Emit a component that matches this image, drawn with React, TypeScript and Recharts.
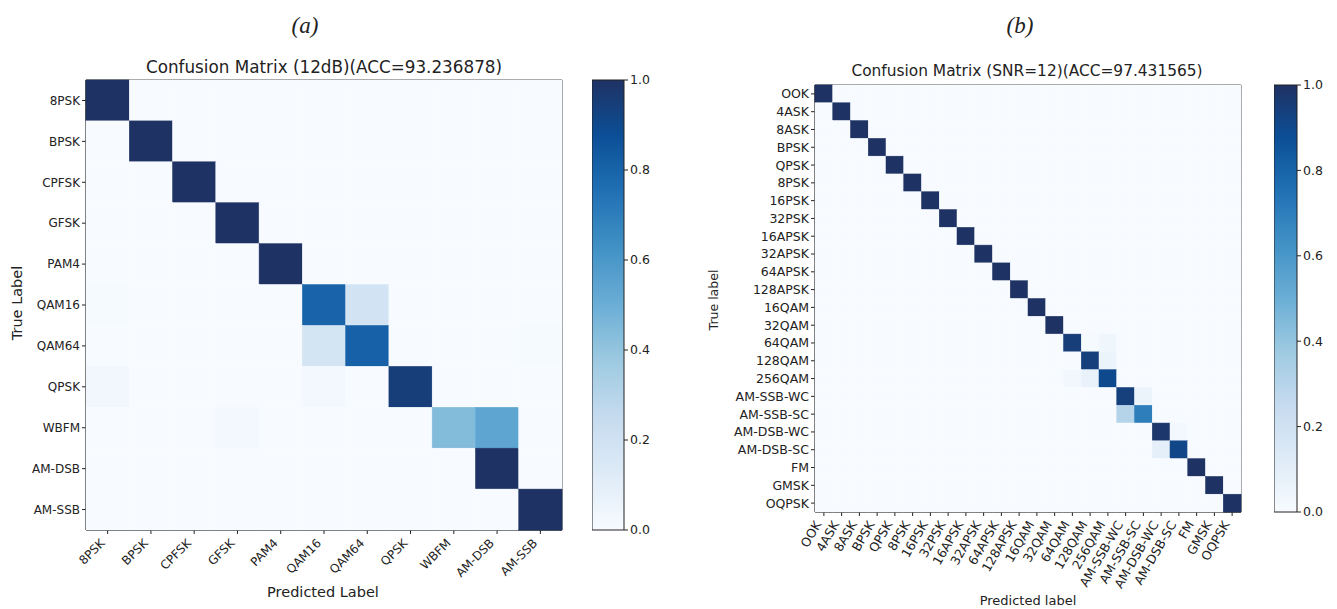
import React from "react";
import {
  ScatterChart,
  Scatter,
  XAxis,
  YAxis,
  ReferenceArea,
  BarChart,
  Bar,
} from "recharts";

// (a) 11 classes, 12 dB
const labelsA = ["8PSK", "BPSK", "CPFSK", "GFSK", "PAM4", "QAM16", "QAM64", "QPSK", "WBFM", "AM-DSB", "AM-SSB"];
const matrixA = [
  [1.0, 0, 0, 0, 0, 0, 0, 0, 0, 0, 0],
  [0, 1.0, 0, 0, 0, 0, 0, 0, 0, 0, 0],
  [0, 0, 1.0, 0, 0, 0, 0, 0, 0, 0, 0],
  [0, 0, 0, 1.0, 0, 0, 0, 0, 0, 0, 0],
  [0, 0, 0, 0, 1.0, 0, 0, 0, 0, 0, 0],
  [0.01, 0, 0, 0, 0, 0.8, 0.19, 0, 0, 0, 0],
  [0, 0, 0, 0, 0, 0.18, 0.81, 0, 0, 0, 0.01],
  [0.03, 0, 0, 0, 0, 0.02, 0, 0.95, 0, 0, 0],
  [0, 0, 0, 0.02, 0, 0, 0, 0, 0.44, 0.54, 0],
  [0, 0, 0, 0, 0, 0, 0, 0, 0, 1.0, 0],
  [0, 0, 0, 0, 0, 0, 0, 0, 0, 0, 1.0],
];

// (b) 24 classes, SNR = 12
const labelsB = [
  "OOK", "4ASK", "8ASK", "BPSK", "QPSK", "8PSK", "16PSK", "32PSK", "16APSK", "32APSK", "64APSK", "128APSK",
  "16QAM", "32QAM", "64QAM", "128QAM", "256QAM", "AM-SSB-WC", "AM-SSB-SC", "AM-DSB-WC", "AM-DSB-SC", "FM", "GMSK", "OQPSK",
];
const matrixB = [
  [1.0, 0, 0, 0, 0, 0, 0, 0, 0, 0, 0, 0, 0, 0, 0, 0, 0, 0, 0, 0, 0, 0, 0, 0],
  [0, 1.0, 0, 0, 0, 0, 0, 0, 0, 0, 0, 0, 0, 0, 0, 0, 0, 0, 0, 0, 0, 0, 0, 0],
  [0, 0, 1.0, 0, 0, 0, 0, 0, 0, 0, 0, 0, 0, 0, 0, 0, 0, 0, 0, 0, 0, 0, 0, 0],
  [0, 0, 0, 1.0, 0, 0, 0, 0, 0, 0, 0, 0, 0, 0, 0, 0, 0, 0, 0, 0, 0, 0, 0, 0],
  [0, 0, 0, 0, 1.0, 0, 0, 0, 0, 0, 0, 0, 0, 0, 0, 0, 0, 0, 0, 0, 0, 0, 0, 0],
  [0, 0, 0, 0, 0, 1.0, 0, 0, 0, 0, 0, 0, 0, 0, 0, 0, 0, 0, 0, 0, 0, 0, 0, 0],
  [0, 0, 0, 0, 0, 0, 1.0, 0, 0, 0, 0, 0, 0, 0, 0, 0, 0, 0, 0, 0, 0, 0, 0, 0],
  [0, 0, 0, 0, 0, 0, 0, 1.0, 0, 0, 0, 0, 0, 0, 0, 0, 0, 0, 0, 0, 0, 0, 0, 0],
  [0, 0, 0, 0, 0, 0, 0, 0, 1.0, 0, 0, 0, 0, 0, 0, 0, 0, 0, 0, 0, 0, 0, 0, 0],
  [0, 0, 0, 0, 0, 0, 0, 0, 0, 1.0, 0, 0, 0, 0, 0, 0, 0, 0, 0, 0, 0, 0, 0, 0],
  [0, 0, 0, 0, 0, 0, 0, 0, 0, 0, 1.0, 0, 0, 0, 0, 0, 0, 0, 0, 0, 0, 0, 0, 0],
  [0, 0, 0, 0, 0, 0, 0, 0, 0, 0, 0, 1.0, 0, 0, 0, 0, 0, 0, 0, 0, 0, 0, 0, 0],
  [0, 0, 0, 0, 0, 0, 0, 0, 0, 0, 0, 0, 1.0, 0, 0, 0, 0, 0, 0, 0, 0, 0, 0, 0],
  [0, 0, 0, 0, 0, 0, 0, 0, 0, 0, 0, 0, 0, 1.0, 0, 0, 0, 0, 0, 0, 0, 0, 0, 0],
  [0, 0, 0, 0, 0, 0, 0, 0, 0, 0, 0, 0, 0, 0, 0.95, 0.01, 0.04, 0, 0, 0, 0, 0, 0, 0],
  [0, 0, 0, 0, 0, 0, 0, 0, 0, 0, 0, 0, 0, 0, 0, 0.94, 0.06, 0, 0, 0, 0, 0, 0, 0],
  [0, 0, 0, 0, 0, 0, 0, 0, 0, 0, 0, 0, 0, 0, 0.03, 0.07, 0.9, 0, 0, 0, 0, 0, 0, 0],
  [0, 0, 0, 0, 0, 0, 0, 0, 0, 0, 0, 0, 0, 0, 0, 0, 0, 0.94, 0.06, 0, 0, 0, 0, 0],
  [0, 0, 0, 0, 0, 0, 0, 0, 0, 0, 0, 0, 0, 0, 0, 0, 0, 0.3, 0.7, 0, 0, 0, 0, 0],
  [0, 0, 0, 0, 0, 0, 0, 0, 0, 0, 0, 0, 0, 0, 0, 0, 0, 0, 0, 0.98, 0.02, 0, 0, 0],
  [0, 0, 0, 0, 0, 0, 0, 0, 0, 0, 0, 0, 0, 0, 0, 0, 0, 0, 0, 0.09, 0.91, 0, 0, 0],
  [0, 0, 0, 0, 0, 0, 0, 0, 0, 0, 0, 0, 0, 0, 0, 0, 0, 0, 0, 0, 0, 1.0, 0, 0],
  [0, 0, 0, 0, 0, 0, 0, 0, 0, 0, 0, 0, 0, 0, 0, 0, 0, 0, 0, 0, 0, 0, 1.0, 0],
  [0, 0, 0, 0, 0, 0, 0, 0, 0, 0, 0, 0, 0, 0, 0, 0, 0, 0, 0, 0, 0, 0, 0, 1.0],
];

const colorTicks = [0, 0.2, 0.4, 0.6, 0.8, 1.0];

// matplotlib "Blues", dark end matched to the picture
const blues: [number, string][] = [
  [0, "#f7fbff"],
  [0.125, "#deebf7"],
  [0.25, "#c6dbef"],
  [0.375, "#9ecae1"],
  [0.5, "#6baed6"],
  [0.625, "#4292c6"],
  [0.75, "#2171b5"],
  [0.875, "#0b4f97"],
  [1, "#1f3264"],
];

const FONT = "'DejaVu Sans', sans-serif";
const INK = "#222";

function hex(c: string) {
  return [1, 3, 5].map((i) => parseInt(c.slice(i, i + 2), 16));
}

function blueAt(v: number) {
  const t = Math.max(0, Math.min(1, v));
  for (let i = 1; i < blues.length; i++) {
    const [o1, c1] = blues[i - 1];
    const [o2, c2] = blues[i];
    if (t <= o2) {
      const f = (t - o1) / (o2 - o1);
      const a = hex(c1);
      const b = hex(c2);
      const m = a.map((x, k) => Math.round(x + (b[k] - x) * f));
      return `rgb(${m[0]},${m[1]},${m[2]})`;
    }
  }
  return blues[blues.length - 1][1];
}

/* ------------------------------------------------------------------ */

function SlantTick(props: any) {
  const { x, y, payload, labels, angle, fontSize, dx, dy } = props;
  return (
    <g transform={`translate(${x + dx},${y + dy})`}>
      <text
        textAnchor="end"
        dominantBaseline="central"
        transform={`rotate(${-angle})`}
        fontSize={fontSize}
        fontFamily={FONT}
        fill={INK}
      >
        {labels[payload.value]}
      </text>
    </g>
  );
}

type Margin = { top: number; right: number; bottom: number; left: number };

function HeatMap({
  labels,
  matrix,
  width,
  height,
  margin,
  yAxisWidth,
  xAxisHeight,
  fontSize,
  angle,
  tickDx,
  tickDy,
}: {
  labels: string[];
  matrix: number[][];
  width: number;
  height: number;
  margin: Margin;
  yAxisWidth: number;
  xAxisHeight: number;
  fontSize: number;
  angle: number;
  tickDx: number;
  tickDy: number;
}) {
  const n = labels.length;
  const cw = (width - margin.left - margin.right - yAxisWidth) / n;
  const ch = (height - margin.top - margin.bottom - xAxisHeight) / n;
  const cells = matrix.flatMap((row, r) => row.map((v, c) => ({ x: c, y: r, v })));
  const idx = labels.map((_, i) => i);

  return (
    <ScatterChart width={width} height={height} margin={margin}>
      <XAxis
        type="number"
        dataKey="x"
        domain={[-0.5, n - 0.5]}
        ticks={idx}
        interval={0}
        height={xAxisHeight}
        tickSize={4}
        stroke={INK}
        tick={<SlantTick labels={labels} angle={angle} fontSize={fontSize} dx={tickDx} dy={tickDy} />}
      />
      <YAxis
        type="number"
        dataKey="y"
        domain={[-0.5, n - 0.5]}
        reversed
        ticks={idx}
        interval={0}
        width={yAxisWidth}
        tickSize={4}
        stroke={INK}
        tickFormatter={(i: number) => labels[i]}
        tick={{ fontSize, fill: INK, fontFamily: FONT }}
      />
      <Scatter
        data={cells}
        isAnimationActive={false}
        shape={(p: any) => (
          <rect
            x={p.cx - cw / 2}
            y={p.cy - ch / 2}
            width={cw}
            height={ch}
            fill={blueAt(p.payload.v)}
            stroke={blueAt(p.payload.v)}
            strokeWidth={0.5}
          />
        )}
      />
      <ReferenceArea
        x1={-0.5}
        x2={n - 0.5}
        y1={-0.5}
        y2={n - 0.5}
        fill="none"
        stroke={INK}
        strokeWidth={1}
        ifOverflow="visible"
      />
    </ScatterChart>
  );
}

function ColorBar({
  id,
  width,
  height,
  margin,
  axisWidth,
  fontSize,
}: {
  id: string;
  width: number;
  height: number;
  margin: Margin;
  axisWidth: number;
  fontSize: number;
}) {
  return (
    <BarChart width={width} height={height} margin={margin} data={[{ k: "scale", v: 1 }]} barCategoryGap={0}>
      <defs>
        <linearGradient id={id} x1="0" y1="1" x2="0" y2="0">
          {blues.map(([o, c]) => (
            <stop key={o} offset={o} stopColor={c} />
          ))}
        </linearGradient>
      </defs>
      <XAxis dataKey="k" hide />
      <YAxis
        orientation="right"
        domain={[0, 1]}
        ticks={colorTicks}
        interval={0}
        width={axisWidth}
        tickSize={4}
        stroke={INK}
        axisLine={false}
        tickFormatter={(v: number) => v.toFixed(1)}
        tick={{ fontSize, fill: INK, fontFamily: FONT }}
      />
      <Bar dataKey="v" fill={`url(#${id})`} stroke={INK} strokeWidth={1} isAnimationActive={false} />
    </BarChart>
  );
}

function Caption({
  x,
  y,
  size,
  rotate = 0,
  serif = false,
  children,
}: {
  x: number;
  y: number;
  size: number;
  rotate?: number;
  serif?: boolean;
  children: React.ReactNode;
}) {
  return (
    <div
      style={{
        position: "absolute",
        left: x,
        top: y,
        transform: `translate(-50%, -50%) rotate(${rotate}deg)`,
        whiteSpace: "nowrap",
        fontSize: size,
        lineHeight: 1,
        color: INK,
        fontFamily: serif ? "'Liberation Serif', serif" : FONT,
        fontStyle: serif ? "italic" : "normal",
      }}
    >
      {children}
    </div>
  );
}

function Place({ left, top, children }: { left: number; top: number; children: React.ReactNode }) {
  return <div style={{ position: "absolute", left, top }}>{children}</div>;
}

export default function App() {
  return (
    <div
      style={{
        position: "absolute",
        left: 0,
        top: 0,
        width: 1337,
        height: 609,
        background: "#fff",
        overflow: "hidden",
      }}
    >
      <Caption x={305} y={25} size={23} serif>
        (a)
      </Caption>
      <Caption x={1020} y={25} size={23} serif>
        (b)
      </Caption>

      <Caption x={324} y={67} size={16.8}>
        Confusion Matrix (12dB)(ACC=93.236878)
      </Caption>
      <Caption x={323} y={592} size={14.5}>
        Predicted Label
      </Caption>
      <Caption x={17} y={303} size={14.5} rotate={-90}>
        True Label
      </Caption>

      <Caption x={1027} y={72} size={15.4}>
        Confusion Matrix (SNR=12)(ACC=97.431565)
      </Caption>
      <Caption x={1028} y={600} size={13}>
        Predicted label
      </Caption>
      <Caption x={714} y={300} size={12.5} rotate={-90}>
        True label
      </Caption>

      <Place left={0} top={0}>
        <HeatMap
          labels={labelsA}
          matrix={matrixA}
          width={572}
          height={609}
          margin={{ top: 80, right: 10, bottom: 24, left: 0 }}
          yAxisWidth={86}
          xAxisHeight={55}
          fontSize={12}
          angle={45}
          tickDx={-5}
          tickDy={5}
        />
      </Place>
      <Place left={592} top={0}>
        <ColorBar
          id="cbarA"
          width={72}
          height={609}
          margin={{ top: 80, right: 0, bottom: 79, left: 0 }}
          axisWidth={40}
          fontSize={12.5}
        />
      </Place>

      <Place left={700} top={0}>
        <HeatMap
          labels={labelsB}
          matrix={matrixB}
          width={551}
          height={609}
          margin={{ top: 85, right: 10, bottom: 17, left: 0 }}
          yAxisWidth={115}
          xAxisHeight={80}
          fontSize={12.5}
          angle={60}
          tickDx={-6}
          tickDy={4}
        />
      </Place>
      <Place left={1274} top={0}>
        <ColorBar
          id="cbarB"
          width={63}
          height={609}
          margin={{ top: 85, right: 0, bottom: 97, left: 0 }}
          axisWidth={40}
          fontSize={12.5}
        />
      </Place>
    </div>
  );
}
